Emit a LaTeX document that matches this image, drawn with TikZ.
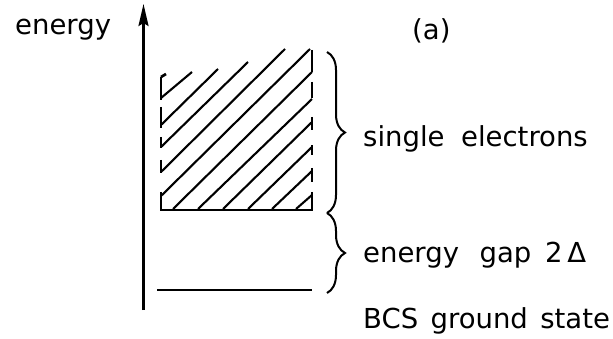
\documentclass[tikz,border=0pt]{standalone}
\usepackage{fontspec}
\setmainfont{DejaVu Sans}
\usetikzlibrary{arrows.meta,decorations.pathreplacing}

\tikzset{
  bandtext/.style={anchor=base west, inner sep=0pt, font=\fontsize{27.5}{32}\selectfont},
  hatchline/.style={line width=2.1pt},
  bandedge/.style={line width=2.7pt},
  bandbrace/.style={line width=2pt, decorate, decoration={brace, amplitude=18pt}},
}

\begin{document}
\begin{tikzpicture}[x=1pt,y=-1pt]
\useasboundingbox (0,0) rectangle (613,339);

%axe des energies
\coordinate (axisbot) at (143.5,310);
\coordinate (axistop) at (143.5,4);
\draw[line width=2.3pt,-{Stealth[length=22pt,width=10pt,inset=3pt]}] (axisbot) -- (axistop);
\node[bandtext] (energy) at (15,35) {energy};
\node[bandtext] (tag) at (412,40) {(a)};

%bande des electrons
\coordinate (boxbl) at (160,210);
\coordinate (boxbr) at (313,210);
\draw[bandedge] (boxbl) -- (boxbr);
\foreach \xa/\ya/\xb/\yb in {161/98/192/72, 161/125/218/69, 161/147/248/62,
  161/172/285/49, 161/196/310/49, 173/209/312/72, 198/209/312/99,
  223/209/312/122, 248/209/312/147, 272/209/312/171, 296/209/312/195}
  \draw[hatchline] (\xa,\ya) -- (\xb,\yb);
%bords en tirets
\foreach \ya/\yb in {77/100, 107/128, 137/148, 160/173, 192/210}
  \draw[bandedge] (161,\ya) -- (161,\yb);
\draw[bandedge] (161,77) -- (166,74);
\foreach \ya/\yb in {50/72, 82/98, 117/130, 145/155, 168/182, 192/210}
  \draw[bandedge] (312,\ya) -- (312,\yb);

%etat fondamental
\coordinate (groundl) at (157,290);
\coordinate (groundr) at (312,290);
\draw[bandedge] (groundl) -- (groundr);

%accolades
\coordinate (bracetop) at (327,52);
\coordinate (bracemid) at (327,213);
\coordinate (bracebot) at (327,293);
\draw[bandbrace] (bracetop) -- (bracemid);
\draw[bandbrace] (bracemid) -- (bracebot);

\node[bandtext] (single) at (363,147) {single\hspace{0.6em}electrons};
\node[bandtext] (gap) at (363,262) {energy\hspace{0.75em}gap\hspace{0.5em}2\,Δ};
\node[bandtext] (ground) at (363,328) {BCS\hspace{0.45em}ground\hspace{0.45em}state};

\end{tikzpicture}
\end{document}
